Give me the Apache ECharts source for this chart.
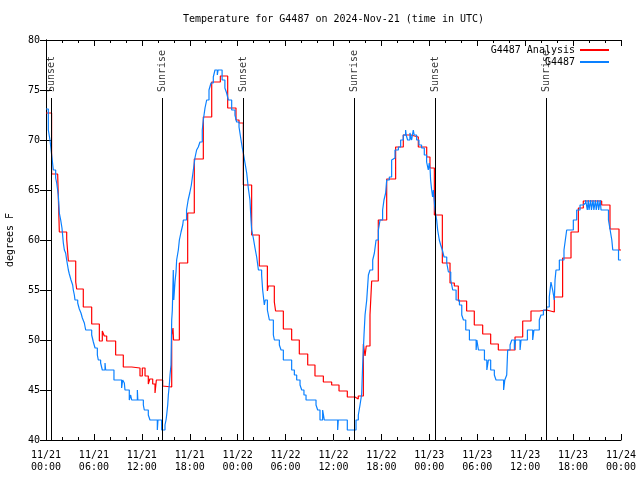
<!DOCTYPE html>
<html><head><meta charset="utf-8">
<script src="https://cdn.jsdelivr.net/npm/echarts@6/dist/echarts.min.js"></script>
<style>html,body{margin:0;padding:0;background:#fff}#c{width:640px;height:480px}</style>
</head><body><div id="c"></div>
<script>
var titleText = "Temperature for G4487 on 2024-Nov-21 (time in UTC)";
var xTickLabels = ["11/21\n00:00","11/21\n06:00","11/21\n12:00","11/21\n18:00","11/22\n00:00","11/22\n06:00","11/22\n12:00","11/22\n18:00","11/23\n00:00","11/23\n06:00","11/23\n12:00","11/23\n18:00","11/24\n00:00"];
var yTicks = [40,45,50,55,60,65,70,75,80];

var redHours = [0,0.7,1.46,1.67,2.59,2.8,3.72,3.84,4.67,5.72,6.68,7.05,7.3,7.6,8.72,9.68,10.73,11.77,12.06,12.4,12.81,13.0,13.36,13.65,13.82,14.61,14.78,15.74,15.9,15.97,16.7,17.74,18.57,19.7,20.75,21.83,22.75,23.79,24.17,24.71,25.75,26.71,27.72,27.84,28.59,28.75,29.72,30.76,31.72,32.77,33.68,34.73,35.77,36.69,37.73,38.69,39.1,39.74,39.95,40.1,40.57,40.78,41.61,42.66,43.78,44.74,45.7,46.62,47.67,48.08,48.63,49.63,50.59,51.13,51.63,52.67,53.63,54.68,55.68,56.64,58.73,59.69,60.73,61.78,62.69,63.65,64.69,65.74,66.66,67.28,69.58,70.62,71.75,72];
var redTemps = [72.7,66.6,66.8,60.8,60.1,57.9,55.8,55.1,53.3,51.6,49.9,50.9,50.4,49.9,48.5,47.3,47.2,46.4,47.2,46.4,45.6,46.1,45.6,44.7,46.0,45.4,45.3,50.5,51.2,50.0,57.7,62.7,68.1,72.3,75.8,76.4,73.2,72.0,71.7,65.5,60.5,57.4,54.9,55.4,53.8,52.9,51.1,50.0,48.6,47.5,46.4,45.8,45.5,44.9,44.3,44.1,44.4,49.6,48.4,49.4,52.5,55.9,62.0,66.1,69.3,70.5,70.3,69.3,68.3,67.2,62.5,57.7,55.7,55.4,53.9,52.9,51.5,50.6,49.6,49.0,50.3,51.9,52.9,53.0,52.8,54.3,58.2,60.8,63.2,63.9,63.5,61.1,59.0,59.0];

var blueHours = [0,0.29,0.5,0.71,0.92,1.21,1.34,1.54,1.67,1.84,2.0,2.08,2.17,2.3,2.46,2.59,2.8,2.92,3.13,3.34,3.42,3.55,3.63,3.97,4.17,4.38,4.55,4.8,4.97,5.72,5.93,6.14,6.43,6.55,6.84,7.05,7.39,7.47,8.51,9.47,9.6,9.81,9.89,10.43,10.6,10.73,11.44,11.5,12.19,12.31,12.81,13.02,13.94,14.02,14.48,14.9,15.03,15.11,15.24,15.32,15.44,15.53,15.65,15.74,15.82,15.94,16.0,16.15,16.28,16.36,16.57,16.7,16.91,17.12,17.2,17.6,17.8,18.0,18.2,18.4,18.65,18.86,19.07,19.28,19.57,19.7,19.91,20.12,20.41,20.66,20.95,21.16,21.45,21.55,22.05,22.4,22.62,22.83,23.25,23.66,23.87,24.17,24.42,24.58,24.71,24.92,25.13,25.33,25.54,25.67,25.75,25.96,26.17,26.38,26.6,27.0,27.13,27.34,27.45,27.72,27.97,28.47,28.6,29.22,29.43,29.72,30.76,31.1,31.39,31.81,32.02,32.3,32.56,33.81,34.02,34.31,34.64,34.85,36.52,36.6,37.73,38.82,39.11,39.32,39.53,39.65,39.82,39.95,40.16,40.37,40.57,40.91,41.12,41.33,41.62,41.83,42.15,42.32,42.53,42.66,42.99,43.28,43.49,43.7,44.12,44.41,44.74,45.03,45.1,45.28,45.57,45.78,45.99,46.1,46.41,46.7,47.03,47.37,47.66,47.87,47.99,48.1,48.16,48.29,48.41,48.5,48.71,48.92,49.04,49.25,49.42,49.63,49.84,50.18,50.39,50.68,50.93,51.35,51.77,52.06,52.27,52.56,53.02,53.86,53.95,54.15,54.9,55.2,55.4,55.68,56.14,56.35,57.3,57.45,57.69,57.81,58.11,58.32,58.65,58.8,59.36,59.48,60.28,60.94,61.1,61.77,61.98,62.28,62.69,63.02,63.23,63.44,63.65,63.74,63.86,64.28,64.86,65.03,65.2,66.03,66.45,66.87,67.28,67.57,67.78,67.9,68.0,68.2,68.3,68.5,68.6,68.8,68.9,69.1,69.2,69.4,69.5,70.43,70.64,70.85,70.97,71.69,72];
var blueTemps = [73.1,71.0,70.0,68.5,67.0,66.2,65.7,64.5,62.7,62.0,61.2,60.5,59.7,59.0,58.7,58.0,57.0,56.6,56.0,55.5,55.0,54.5,54.0,53.7,53.1,52.7,52.2,51.7,51.0,50.5,49.8,49.2,48.5,48.0,47.7,47.0,47.7,47.0,46.0,45.2,46.0,45.7,45.0,44.0,44.5,44.0,45.0,44.0,43.5,43.0,42.5,42.0,41.0,42.0,41.0,41.5,42.0,42.5,43.5,44.5,45.5,46.5,47.5,52.0,53.0,57.0,54.0,55.8,56.8,58.0,59.0,60.0,60.8,61.5,62.0,63.0,64.0,64.7,65.5,66.7,68.2,69.0,69.3,69.8,71.0,72.0,73.2,74.0,75.0,75.7,76.3,77.0,76.5,77.0,76.0,75.2,74.7,74.0,73.0,72.5,71.8,71.3,70.0,69.2,68.7,67.7,66.7,65.2,64.0,62.0,61.0,60.2,59.2,58.3,57.0,56.5,55.0,53.5,54.0,53.0,52.0,50.5,50.0,49.5,49.0,48.0,47.0,46.5,46.0,45.5,45.0,44.5,44.0,43.5,43.0,42.0,43.0,42.0,41.0,42.0,41.0,42.0,42.5,43.5,44.6,47.5,50.5,52.5,54.0,56.5,57.0,58.0,58.7,60.0,61.0,62.0,63.0,64.0,64.7,66.0,66.3,68.0,68.2,69.0,69.3,70.0,70.5,71.0,70.5,70.0,70.7,70.0,71.0,70.5,70.0,69.5,69.2,68.5,67.8,67.0,67.7,67.0,66.0,65.0,64.3,65.0,63.0,62.0,61.0,60.0,59.5,59.0,58.3,57.7,56.8,56.0,55.0,54.0,53.5,52.5,52.0,51.0,50.0,49.0,50.0,49.0,48.0,47.0,48.0,47.0,46.5,46.0,45.0,46.0,46.5,49.0,49.5,50.0,49.0,50.0,49.0,50.0,51.0,50.0,51.0,52.0,52.5,53.0,53.3,54.3,55.8,55.0,54.0,56.0,57.0,58.0,59.0,60.0,61.0,62.0,63.0,63.5,63.7,64.0,63.0,64.0,63.0,64.0,63.0,64.0,63.0,64.0,63.0,64.0,63.0,64.0,63.0,62.0,61.0,60.0,59.0,58.0,58.0];

var sunNames = ["Sunset","Sunrise","Sunset","Sunrise","Sunset","Sunrise"];
var sunHours = [0.71,14.57,24.71,38.61,48.71,62.65];
var sunLineTop = 74.2;
var sunLabelBase = 74.8;

function zip(a,b){var r=[];for(var i=0;i<a.length;i++)r.push([a[i],b[i]]);return r;}

var FONT = "DejaVu Sans Mono";
var chart = echarts.init(document.getElementById('c'), null, {renderer:'canvas'});
var tickLen = 6;
var axisBase = {
  type:'value', min:0, max:72, interval:6,
  axisLine:{show:true, lineStyle:{color:'#000', width:1}},
  axisTick:{show:true, inside:true, length:tickLen, lineStyle:{color:'#000'}},
  minorTick:{show:true, splitNumber:3, length:3, lineStyle:{color:'#000'}},
  splitLine:{show:false}
};
var option = {
  animation:false,
  backgroundColor:'#fff',
  title:{text:titleText, left:183, top:14, padding:0, textStyle:{fontFamily:FONT, fontSize:10, fontWeight:'normal', color:'#000'}},
  grid:{left:46, right:19, top:40, bottom:40, show:false, containLabel:false, outerBoundsMode:'none'},
  legend:{
    orient:'vertical', right:31, top:44, padding:0, align:'right', itemGap:0, itemWidth:29, itemHeight:2,
    textStyle:{fontFamily:FONT, fontSize:10, color:'#000', lineHeight:12},
    data:[{name:'G4487 Analysis', icon:'rect'},{name:'G4487', icon:'rect'}]
  },
  xAxis:[
    Object.assign({}, axisBase, {position:'bottom',
      axisLabel:{show:true, fontFamily:FONT, fontSize:10, color:'#000', lineHeight:12, margin:9,
        formatter:function(v){return xTickLabels[Math.round(v/6)];}}}),
    Object.assign({}, axisBase, {position:'top', axisLabel:{show:false}})
  ],
  yAxis:[
    {type:'value', min:yTicks[0], max:yTicks[yTicks.length-1], interval:5, position:'left',
     name:'degrees F', nameLocation:'middle', nameGap:31, nameRotate:90,
     nameTextStyle:{fontFamily:FONT, fontSize:10, color:'#000'},
     axisLine:{show:true, lineStyle:{color:'#000'}},
     axisTick:{show:true, inside:true, length:tickLen, lineStyle:{color:'#000'}},
     axisLabel:{fontFamily:FONT, fontSize:10, color:'#000', margin:6},
     splitLine:{show:false}},
    {type:'value', min:yTicks[0], max:yTicks[yTicks.length-1], interval:5, position:'right',
     axisLine:{show:true, lineStyle:{color:'#000'}},
     axisTick:{show:true, inside:true, length:tickLen, lineStyle:{color:'#000'}},
     axisLabel:{show:false}, splitLine:{show:false}}
  ],
  series:[
    {name:'sun', type:'line', data:[], silent:true, z:1,
     markLine:{symbol:['none','none'], silent:true, animation:false,
       lineStyle:{color:'#000', width:1, type:'solid'}, label:{show:false},
       data: sunHours.map(function(h){return [{coord:[h,40]},{coord:[h,sunLineTop]}];})}
    },
    {name:'sunlabels', type:'scatter', symbolSize:0, silent:true, z:1,
     data: sunHours.map(function(h,i){return {value:[h,sunLabelBase], name:sunNames[i]};}),
     label:{show:true, position:'inside', rotate:90, align:'left', verticalAlign:'middle',
       formatter:function(p){return p.name;}, fontFamily:FONT, fontSize:10, color:'#000'}
    },
    {name:'G4487 Analysis', type:'line', step:'end', showSymbol:false, symbol:'none', z:2,
     data: zip(redHours, redTemps), lineStyle:{color:'#ff0000', width:1.2}, itemStyle:{color:'#ff0000'}},
    {name:'G4487', type:'line', step:'end', showSymbol:false, symbol:'none', z:3,
     data: zip(blueHours, blueTemps), lineStyle:{color:'#0a80ff', width:1.2}, itemStyle:{color:'#0a80ff'}}
  ]
};
chart.setOption(option);
</script></body></html>
